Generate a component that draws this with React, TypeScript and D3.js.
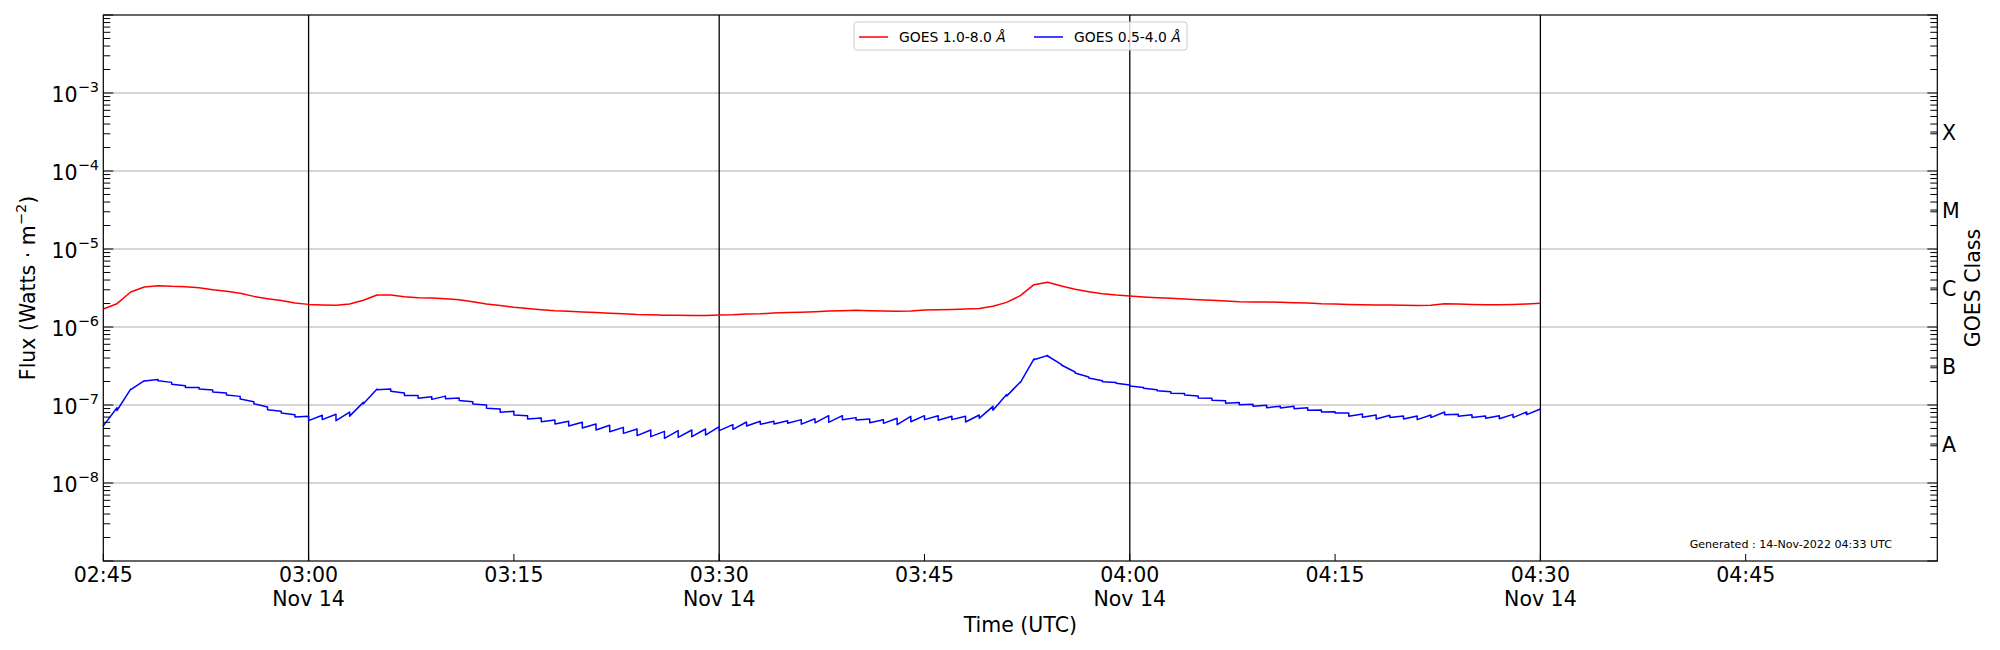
import React from 'react';
import * as d3 from 'd3';

// ---------- data ----------
const START = Date.UTC(2022, 10, 14, 2, 45);
const END = Date.UTC(2022, 10, 14, 4, 59);

// GOES 1.0-8.0 Å, one value per minute from 02:45 to 04:30 UTC (W m^-2)
const xrsLong = [
  1.70e-6, 1.99e-6, 2.81e-6, 3.26e-6, 3.39e-6, 3.32e-6, 3.29e-6, 3.19e-6, 3.01e-6, 2.87e-6,
  2.70e-6, 2.47e-6, 2.31e-6, 2.18e-6, 2.03e-6, 1.95e-6, 1.92e-6, 1.90e-6, 1.97e-6, 2.20e-6,
  2.57e-6, 2.57e-6, 2.45e-6, 2.38e-6, 2.35e-6, 2.31e-6, 2.24e-6, 2.11e-6, 1.97e-6, 1.88e-6,
  1.79e-6, 1.73e-6, 1.67e-6, 1.62e-6, 1.59e-6, 1.56e-6, 1.53e-6, 1.50e-6, 1.48e-6, 1.45e-6,
  1.44e-6, 1.41e-6, 1.41e-6, 1.40e-6, 1.40e-6, 1.43e-6, 1.44e-6, 1.47e-6, 1.48e-6, 1.51e-6,
  1.53e-6, 1.55e-6, 1.57e-6, 1.60e-6, 1.62e-6, 1.64e-6, 1.62e-6, 1.60e-6, 1.59e-6, 1.60e-6,
  1.65e-6, 1.67e-6, 1.68e-6, 1.70e-6, 1.73e-6, 1.84e-6, 2.07e-6, 2.52e-6, 3.49e-6, 3.74e-6,
  3.36e-6, 3.04e-6, 2.84e-6, 2.67e-6, 2.57e-6, 2.50e-6, 2.43e-6, 2.38e-6, 2.33e-6, 2.29e-6,
  2.24e-6, 2.20e-6, 2.15e-6, 2.11e-6, 2.09e-6, 2.09e-6, 2.07e-6, 2.05e-6, 2.03e-6, 1.99e-6,
  1.97e-6, 1.95e-6, 1.93e-6, 1.92e-6, 1.92e-6, 1.90e-6, 1.88e-6, 1.90e-6, 1.99e-6, 1.97e-6,
  1.95e-6, 1.93e-6, 1.93e-6, 1.95e-6, 1.97e-6, 2.01e-6,
];

// GOES 0.5-4.0 Å: two samples per minute (first / second record of each minute)
const xrsShortFirst = [
  5.5e-8, 9.2e-8, 1.60e-7, 2.05e-7, 2.13e-7, 1.95e-7, 1.77e-7, 1.68e-7, 1.56e-7, 1.43e-7,
  1.29e-7, 1.10e-7, 9.4e-8, 8.3e-8, 7.5e-8, 7.2e-8, 7.4e-8, 7.6e-8, 8.1e-8, 1.08e-7,
  1.60e-7, 1.60e-7, 1.43e-7, 1.32e-7, 1.28e-7, 1.30e-7, 1.23e-7, 1.10e-7, 1.00e-7, 8.89e-8,
  8.30e-8, 7.30e-8, 6.81e-8, 6.42e-8, 6.18e-8, 6.00e-8, 5.71e-8, 5.49e-8, 5.17e-8, 4.92e-8,
  4.78e-8, 4.59e-8, 4.69e-8, 4.78e-8, 4.92e-8, 5.27e-8, 5.60e-8, 6.05e-8, 6.18e-8, 6.18e-8,
  6.30e-8, 6.49e-8, 6.65e-8, 7.30e-8, 7.30e-8, 6.89e-8, 6.62e-8, 6.49e-8, 6.75e-8, 7.16e-8,
  7.30e-8, 7.30e-8, 7.16e-8, 7.16e-8, 7.45e-8, 9.61e-8, 1.36e-7, 1.97e-7, 3.89e-7, 4.33e-7,
  3.32e-7, 2.65e-7, 2.29e-7, 2.05e-7, 1.95e-7, 1.80e-7, 1.68e-7, 1.57e-7, 1.48e-7, 1.40e-7,
  1.30e-7, 1.22e-7, 1.13e-7, 1.08e-7, 1.02e-7, 9.90e-8, 9.61e-8, 9.61e-8, 9.24e-8, 8.63e-8,
  8.22e-8, 7.90e-8, 7.67e-8, 7.45e-8, 7.37e-8, 7.23e-8, 7.23e-8, 7.45e-8, 8.13e-8, 7.59e-8,
  7.52e-8, 7.23e-8, 7.30e-8, 7.59e-8, 8.13e-8, 8.89e-8,
];
const xrsShortSecond = [
  5.4e-8, 8.5e-8, 1.57e-7, 2.03e-7, 2.05e-7, 1.84e-7, 1.68e-7, 1.60e-7, 1.47e-7, 1.34e-7,
  1.19e-7, 1.04e-7, 8.7e-8, 7.9e-8, 7.0e-8, 6.3e-8, 6.5e-8, 6.3e-8, 7.2e-8, 1.04e-7,
  1.57e-7, 1.50e-7, 1.32e-7, 1.22e-7, 1.18e-7, 1.20e-7, 1.14e-7, 1.03e-7, 9.06e-8, 8.05e-8,
  7.45e-8, 6.62e-8, 6.11e-8, 5.71e-8, 5.38e-8, 5.07e-8, 4.78e-8, 4.55e-8, 4.33e-8, 4.05e-8,
  3.93e-8, 3.74e-8, 3.85e-8, 3.93e-8, 4.12e-8, 4.69e-8, 4.88e-8, 5.38e-8, 5.65e-8, 5.71e-8,
  5.82e-8, 5.68e-8, 5.91e-8, 6.00e-8, 6.49e-8, 6.42e-8, 5.94e-8, 5.82e-8, 5.60e-8, 6.11e-8,
  6.49e-8, 6.36e-8, 6.49e-8, 6.05e-8, 6.75e-8, 8.55e-8, 1.30e-7, 1.93e-7, 3.81e-7, 4.25e-7,
  3.26e-7, 2.57e-7, 2.22e-7, 1.99e-7, 1.90e-7, 1.75e-7, 1.64e-7, 1.52e-7, 1.41e-7, 1.34e-7,
  1.23e-7, 1.15e-7, 1.05e-7, 1.01e-7, 9.61e-8, 9.24e-8, 9.15e-8, 8.97e-8, 8.55e-8, 8.13e-8,
  7.90e-8, 7.16e-8, 6.95e-8, 6.62e-8, 6.89e-8, 6.62e-8, 6.49e-8, 6.89e-8, 7.52e-8, 7.16e-8,
  6.89e-8, 6.75e-8, 6.68e-8, 6.89e-8, 7.52e-8, 8.70e-8,
];

const seriesLabels = ['GOES 1.0-8.0 ', 'GOES 0.5-4.0 '];
const seriesColors = ['#ff0000', '#0000ff'];
const yLabelExponents = [-8, -7, -6, -5, -4, -3];
const gridDecades = [1e-8, 1e-7, 1e-6, 1e-5, 1e-4, 1e-3];
const classLabels = ['A', 'B', 'C', 'M', 'X'];
const classCenters = [3.162e-8, 3.162e-7, 3.162e-6, 3.162e-5, 3.162e-4];
const minorTickLabels = ['02:45', '03:15', '03:45', '04:15', '04:45'];
const majorTickLabels = ['03:00', '03:30', '04:00', '04:30'];
const dateLabel = 'Nov 14';
const generatedText = 'Generated : 14-Nov-2022 04:33 UTC';

// ---------- layout ----------
const W = 2000;
const H = 650;
const L = 103.3, R = 1937.3, T = 15, B = 561;
const FONT = 'DejaVu Sans, Liberation Sans, sans-serif';
const FS = 20.5;

const toDate = (hhmm: string) => {
  const [h, m] = hhmm.split(':').map(Number);
  return new Date(Date.UTC(2022, 10, 14, h, m));
};

export default function App() {
  const x = d3.scaleUtc().domain([new Date(START), new Date(END)]).range([L, R]);
  const y = d3.scaleLog().domain([1e-9, 1e-2]).range([B, T]);
  const tAt = (i: number) => new Date(START + i * 60000);

  const line = d3.line<[Date, number]>().x(d => x(d[0])).y(d => y(d[1]));
  const longPts: [Date, number][] = xrsLong.map((v, i) => [tAt(i), v]);
  const shortPts: [Date, number][] = [];
  xrsShortFirst.forEach((v, i) => {
    shortPts.push([tAt(i), v]);
    shortPts.push([tAt(i), xrsShortSecond[i]]);
  });

  // minor log ticks
  const minorVals: number[] = [];
  for (let k = -9; k <= -3; k++) for (let j = 2; j <= 9; j++) minorVals.push(j * Math.pow(10, k));
  const majorVals = [1e-9, ...gridDecades, 1e-2];

  const allTimeTicks = [...minorTickLabels, ...majorTickLabels];

  return (
    <div style={{ position: 'absolute', left: 0, top: 0, width: W, height: H, background: '#fff' }}>
      <svg width={W} height={H} style={{ display: 'block', fontFamily: FONT }}>
        <rect x={0} y={0} width={W} height={H} fill="#fff" />
        {/* horizontal grid */}
        {gridDecades.map(v => (
          <line key={'g' + v} x1={L} x2={R} y1={y(v)} y2={y(v)} stroke="#b0b0b0" strokeWidth={1.1} />
        ))}
        {/* vertical major time lines */}
        {majorTickLabels.map(s => (
          <line key={'v' + s} x1={x(toDate(s))} x2={x(toDate(s))} y1={T} y2={B} stroke="#000" strokeWidth={1.3} />
        ))}
        {/* data */}
        <path d={line(longPts) || ''} fill="none" stroke={seriesColors[0]} strokeWidth={1.5} strokeLinejoin="round" />
        <path d={line(shortPts) || ''} fill="none" stroke={seriesColors[1]} strokeWidth={1.5} strokeLinejoin="round" />

        {/* y ticks left and right */}
        {minorVals.map(v => (
          <g key={'mt' + v}>
            <line x1={L} x2={L + 7} y1={y(v)} y2={y(v)} stroke="#000" strokeWidth={1} />
            <line x1={R} x2={R - 7} y1={y(v)} y2={y(v)} stroke="#000" strokeWidth={1} />
          </g>
        ))}
        {majorVals.map(v => (
          <g key={'Mt' + v}>
            <line x1={L} x2={L + 10} y1={y(v)} y2={y(v)} stroke="#000" strokeWidth={1} />
            <line x1={R} x2={R - 10} y1={y(v)} y2={y(v)} stroke="#000" strokeWidth={1} />
          </g>
        ))}
        {classCenters.map(v => (
          <line key={'ct' + v} x1={R} x2={R - 7} y1={y(v)} y2={y(v)} stroke="#000" strokeWidth={1} />
        ))}
        {/* x ticks */}
        {allTimeTicks.map(s => (
          <line key={'xt' + s} x1={x(toDate(s))} x2={x(toDate(s))} y1={B} y2={B - 7} stroke="#000" strokeWidth={1} />
        ))}

        {/* frame */}
        <rect x={L} y={T} width={R - L} height={B - T} fill="none" stroke="#000" strokeWidth={1.2} />

        {/* y tick labels */}
        {yLabelExponents.map((e, i) => (
          <text key={'yl' + e} x={99} y={y(gridDecades[i]) + 9} textAnchor="end" fontSize={FS} fill="#000">
            10<tspan dy={-10} fontSize={14.5}>{'\u2212' + Math.abs(e)}</tspan>
          </text>
        ))}
        {/* class labels */}
        {classLabels.map((c, i) => (
          <text key={'cl' + c} x={1942} y={y(classCenters[i]) + 7.5} fontSize={FS} fill="#000">{c}</text>
        ))}
        {/* x tick labels */}
        {allTimeTicks.map(s => (
          <text key={'xl' + s} x={x(toDate(s))} y={582} textAnchor="middle" fontSize={FS} fill="#000">{s}</text>
        ))}
        {majorTickLabels.map(s => (
          <text key={'dl' + s} x={x(toDate(s))} y={606} textAnchor="middle" fontSize={FS} fill="#000">{dateLabel}</text>
        ))}

        {/* axis titles */}
        <text x={(L + R) / 2} y={632} textAnchor="middle" fontSize={FS} fill="#000">Time (UTC)</text>
        <text transform={`translate(35, ${(T + B) / 2}) rotate(-90)`} textAnchor="middle" fontSize={FS} fill="#000">
          Flux (Watts · m<tspan dy={-9} fontSize={14.5}>{'\u22122'}</tspan><tspan dy={9}>)</tspan>
        </text>
        <text transform={`translate(1980, ${(T + B) / 2}) rotate(-90)`} textAnchor="middle" fontSize={FS} fill="#000">GOES Class</text>

        {/* generated text */}
        <text x={1892} y={548} textAnchor="end" fontSize={11.1} fill="#000">{generatedText}</text>

        {/* legend */}
        <rect x={854} y={22} width={333} height={28} rx={3} fill="#fff" fillOpacity={0.8} stroke="#cccccc" strokeWidth={1} />
        {[0, 1].map(i => {
          const lx = i === 0 ? 859 : 1034;
          return (
            <g key={'lg' + i}>
              <line x1={lx} x2={lx + 29} y1={37} y2={37} stroke={seriesColors[i]} strokeWidth={1.5} />
              <text x={lx + 40} y={42} fontSize={13.9} fill="#000">
                {seriesLabels[i]}<tspan fontStyle="italic">Å</tspan>
              </text>
            </g>
          );
        })}
      </svg>
    </div>
  );
}
